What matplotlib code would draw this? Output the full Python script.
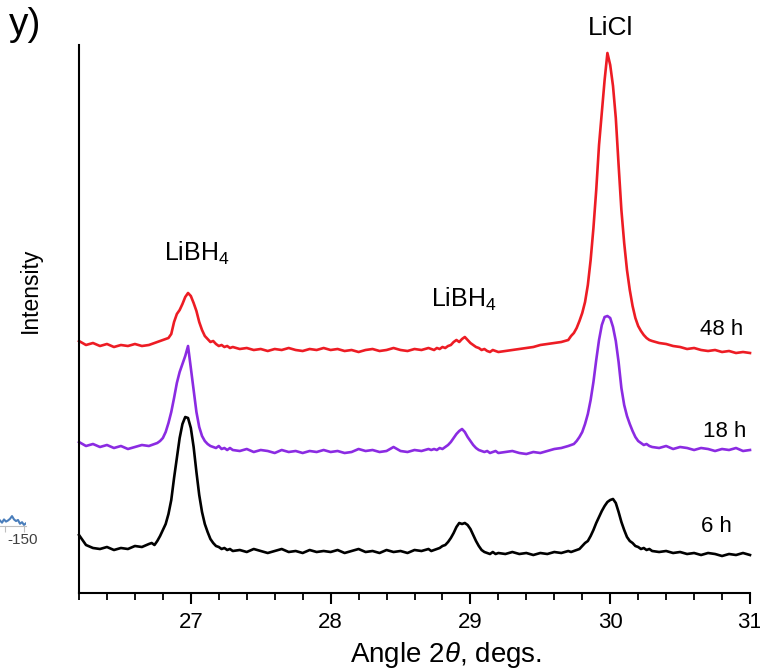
import matplotlib
matplotlib.use("Agg")
import matplotlib.pyplot as plt
from matplotlib.ticker import MultipleLocator, FixedLocator

plt.rcParams['font.family'] = ['Liberation Sans', 'DejaVu Sans']
plt.rcParams['mathtext.fontset'] = 'custom'
plt.rcParams['mathtext.rm'] = 'Liberation Sans'
plt.rcParams['mathtext.it'] = 'Liberation Sans:italic'

# ---------------- data ----------------
two_theta = [
    26.20, 26.25, 26.30, 26.35, 26.40, 26.45, 26.50, 26.55, 26.60, 26.65, 26.70,
    26.72, 26.74, 26.76, 26.78, 26.80, 26.82, 26.84, 26.86, 26.88, 26.90,
    26.92, 26.94, 26.96, 26.98, 27.00, 27.02, 27.04, 27.06, 27.08, 27.10,
    27.12, 27.14, 27.16, 27.18, 27.20, 27.22, 27.24, 27.26, 27.28, 27.30,
    27.35, 27.40, 27.45, 27.50, 27.55, 27.60, 27.65, 27.70, 27.75, 27.80,
    27.85, 27.90, 27.95, 28.00, 28.05, 28.10, 28.15, 28.20, 28.25, 28.30,
    28.35, 28.40, 28.45, 28.50, 28.55, 28.60, 28.65, 28.70,
    28.72, 28.74, 28.76, 28.78, 28.80, 28.82, 28.84, 28.86, 28.88, 28.90,
    28.92, 28.94, 28.96, 28.98, 29.00, 29.02, 29.04, 29.06, 29.08, 29.10,
    29.12, 29.14, 29.16, 29.18, 29.20,
    29.25, 29.30, 29.35, 29.40, 29.45, 29.50, 29.55, 29.60, 29.65, 29.70,
    29.72, 29.74, 29.76, 29.78, 29.80, 29.82, 29.84, 29.86, 29.88, 29.90,
    29.92, 29.94, 29.96, 29.98, 30.00, 30.02, 30.04, 30.06, 30.08, 30.10,
    30.12, 30.14, 30.16, 30.18, 30.20, 30.22, 30.24, 30.26, 30.28, 30.30,
    30.35, 30.40, 30.45, 30.50, 30.55, 30.60, 30.65, 30.70, 30.75, 30.80,
    30.85, 30.90, 30.95, 31.00,
]

intensity_6h = [
    58, 48, 45, 44, 46, 43, 45, 44, 47, 46, 49,
    50, 48, 52, 57, 63, 69, 79, 93, 115, 135, 155, 169, 176, 175, 165, 146, 121, 98, 81, 69,
    61, 54, 50, 47, 46, 44, 45, 43, 44, 42,
    43, 41, 44, 42, 40, 42, 44, 41, 42, 40, 43, 41, 42, 41, 43, 40, 42, 44, 41, 42,
    40, 43, 41, 42, 40, 43, 42, 44,
    42, 43, 44, 45, 47, 48, 51, 55, 60, 66, 70, 69, 70, 68, 64, 58, 52, 47, 43, 41,
    40, 39, 41, 39, 40,
    39, 41, 39, 40, 38, 40, 39, 41, 40, 42,
    41, 42, 43, 44, 47, 50, 52, 57, 63, 70, 76, 82, 87, 91, 93, 94, 90, 81, 71, 63,
    56, 52, 50, 47, 46, 44, 45, 43, 44, 42,
    41, 42, 40, 41, 39, 40, 38, 40, 39, 37, 39, 38, 40, 38,
]

intensity_18h = [
    151, 147, 149, 146, 148, 145, 147, 144, 146, 148, 147,
    148, 149, 150, 152, 155, 161, 170, 181, 195, 210, 221, 229, 237, 247, 225, 203, 181, 166, 157, 152,
    149, 147, 146, 145, 147, 144, 145, 143, 145, 143,
    142, 144, 141, 143, 142, 140, 143, 141, 142, 140, 142, 141, 143, 141, 142, 140, 141, 144, 142, 143,
    141, 142, 146, 142, 141, 143, 142, 144,
    143, 144, 143, 145, 144, 146, 148, 151, 155, 159, 162, 164, 161, 156, 152, 148, 145, 143, 142, 141,
    142, 140, 141, 142, 140,
    141, 142, 140, 139, 141, 140, 142, 144, 145, 147,
    148, 149, 152, 156, 161, 169, 179, 193, 211, 233, 253, 268, 276, 277, 275, 266, 252, 231, 205, 188,
    177, 169, 162, 156, 152, 150, 148, 149, 147, 146,
    145, 147, 144, 146, 145, 143, 145, 144, 142, 144, 143, 145, 142, 143,
]

intensity_48h = [
    252, 248, 250, 247, 249, 246, 248, 247, 249, 247, 248,
    249, 250, 251, 252, 253, 254, 255, 259, 271, 279, 283, 289, 296, 300, 297, 290, 282, 271, 263, 257,
    254, 251, 252, 249, 247, 248, 246, 247, 245, 246,
    244, 245, 243, 244, 242, 244, 243, 245, 243, 242, 244, 243, 245, 243, 244, 242, 243, 241, 243, 244,
    242, 243, 245, 243, 242, 244, 243, 245,
    244, 243, 245, 244, 246, 245, 247, 248, 251, 253, 251, 254, 256, 253, 250, 248, 246, 245, 243, 244,
    242, 241, 243, 242, 241,
    242, 243, 244, 245, 246, 248, 249, 250, 251, 253,
    257, 260, 265, 272, 280, 291, 308, 333, 365, 403, 448, 481, 513, 540, 528, 507, 475, 428, 383, 350,
    323, 303, 287, 275, 267, 262, 258, 255, 253, 252,
    250, 249, 247, 246, 244, 245, 243, 242, 243, 241, 242, 240, 241, 240,
]

series_labels = ["6 h", "18 h", "48 h"]
series_colors = ["#000000", "#8b2be2", "#ed1c24"]

x_ticks = [27, 28, 29, 30, 31]
x_tick_labels = ["27", "28", "29", "30", "31"]

peak_labels = ["LiBH$_4$", "LiBH$_4$", "LiCl"]
peak_label_x = [27.04, 28.95, 30.00]
peak_label_y = [332, 286, 558]

series_label_x = [30.76, 30.82, 30.80]
series_label_y = [61, 156, 258]

# fragment of neighbouring panel (left edge)
frag_x = [0, 2, 4, 6, 8, 10, 12, 14, 16, 18, 20, 22, 24, 26]
frag_y = [1.0, 0.6, 1.2, 0.8, 1.0, 1.3, 1.8, 1.2, 0.9, 1.1, 0.4, 0.7, 0.2, 0.5]

# ---------------- figure ----------------
fig = plt.figure(figsize=(7.6, 6.69), dpi=100)
ax = fig.add_axes([79 / 760, (669 - 593) / 669, (750 - 79) / 760, (593 - 45) / 669])

for ys, col in zip([intensity_6h, intensity_18h, intensity_48h], series_colors):
    ax.plot(two_theta, ys, color=col, lw=1.9, solid_joinstyle='round', clip_on=False)

ax.set_xlim(26.2, 31.0)
ax.set_ylim(0, 548)

ax.spines['top'].set_visible(False)
ax.spines['right'].set_visible(False)
for s in ['left', 'bottom']:
    ax.spines[s].set_linewidth(1.5)

ax.xaxis.set_major_locator(FixedLocator(x_ticks))
ax.set_xticklabels(x_tick_labels)
ax.xaxis.set_minor_locator(MultipleLocator(0.2))
ax.tick_params(axis='x', which='major', direction='out', length=8, width=1.5,
               labelsize=16, pad=6)
ax.tick_params(axis='x', which='minor', direction='out', length=5, width=1.3)
ax.set_yticks([])

for lab, px, py in zip(peak_labels, peak_label_x, peak_label_y):
    fs = 19 if lab == "LiCl" else 18
    ax.text(px, py, lab, ha='center', va='baseline', fontsize=fs, clip_on=False)

for lab, px, py in zip(series_labels, series_label_x, series_label_y):
    ax.text(px, py, lab, ha='center', va='baseline', fontsize=16, clip_on=False)

fig.text(446 / 760, 1 - 655 / 669, "Angle 2$\\theta$, degs.", ha='center', va='center',
         fontsize=20)
fig.text(30 / 760, 1 - 290 / 669, "Intensity", ha='center', va='center',
         rotation=90, fontsize=16.5)
fig.text(41 / 760, 1 - 35 / 669, "y)", ha='right', va='baseline', fontsize=28)

# fragment axes
fax = fig.add_axes([0, (669 - 526) / 669, 26 / 760, 22 / 669])
fax.plot(frag_x, frag_y, color='#4a7ebb', lw=1.5)
fax.set_xlim(0, 26)
fax.set_ylim(0, 4)
for s in ['top', 'right', 'left']:
    fax.spines[s].set_visible(False)
fax.spines['bottom'].set_color('#bfbfbf')
fax.set_yticks([])
fax.set_xticks([5, 24])
fax.set_xticklabels([])
fax.tick_params(axis='x', length=4, color='#bfbfbf')
fax.patch.set_alpha(0)
fig.text(7 / 760, 1 - 540 / 669, "-150", ha='left', va='center', fontsize=11,
         color='#404040')

fig.savefig("out.png", dpi=100)
